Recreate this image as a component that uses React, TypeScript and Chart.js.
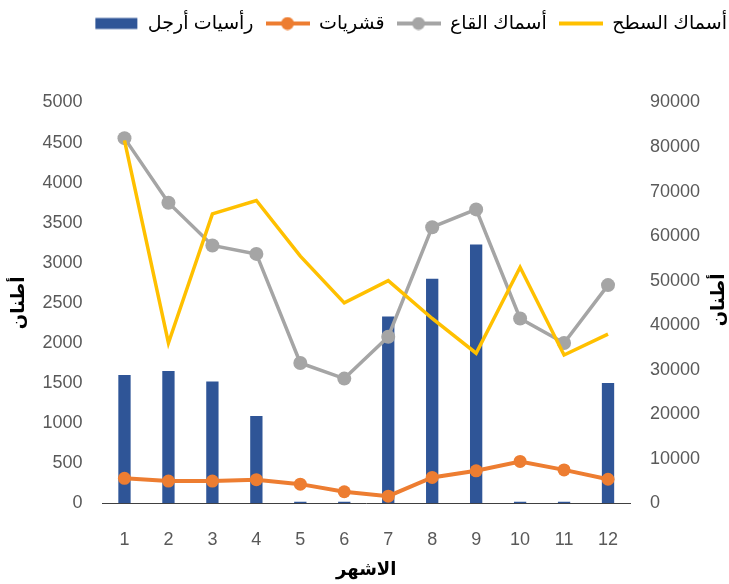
import React, { useEffect, useRef } from "react";
import { Chart, registerables } from "chart.js";

Chart.register(...registerables);

const months = ["1", "2", "3", "4", "5", "6", "7", "8", "9", "10", "11", "12"];
const cephalopods = [1600, 1650, 1520, 1090, 20, 20, 2330, 2800, 3230, 20, 20, 1500];
const crustaceans = [5600, 5000, 5000, 5300, 4300, 2600, 1600, 5800, 7300, 9400, 7500, 5400];
const demersalFish = [82000, 67500, 57900, 56000, 31500, 28000, 37400, 62000, 66000, 41500, 36000, 49000];
const pelagicFish = [81500, 36000, 65000, 68000, 55500, 45000, 50000, 41500, 33700, 53000, 33300, 38000];

const seriesNames = {
  bar: "رأسيات أرجل",
  orange: "قشريات",
  gray: "أسماك القاع",
  yellow: "أسماك السطح",
};
const yTitle = "أطنان";
const xTitle = "الاشهر";

const BLUE = "#2F5597";
const ORANGE = "#ED7D31";
const GRAY = "#A5A5A5";
const YELLOW = "#FFC000";
const TICK = "#595959";

function makeSymbol(kind: string, color: string): HTMLCanvasElement {
  const c = document.createElement("canvas");
  c.width = 44;
  c.height = 14;
  const ctx = c.getContext("2d")!;
  if (kind === "rect") {
    ctx.fillStyle = color;
    ctx.fillRect(1, 1.5, 42, 11);
  } else {
    ctx.strokeStyle = color;
    ctx.lineWidth = 4;
    ctx.beginPath();
    ctx.moveTo(0, 7);
    ctx.lineTo(44, 7);
    ctx.stroke();
    if (kind === "marker") {
      ctx.fillStyle = color;
      ctx.beginPath();
      ctx.arc(22, 7, 6.5, 0, Math.PI * 2);
      ctx.fill();
    }
  }
  return c;
}

const rightTitlePlugin = {
  id: "rightTitle",
  afterLayout(chart: any) {
    if (chart.legend) {
      chart.legend.left += 10;
      chart.legend.right += 10;
    }
  },
  afterDraw(chart: any) {
    const ctx = chart.ctx;
    ctx.save();
    ctx.translate(719, 300);
    ctx.rotate(-Math.PI / 2);
    ctx.font = "bold 18px Arial, 'DejaVu Sans'";
    ctx.fillStyle = "#000";
    ctx.textAlign = "center";
    ctx.textBaseline = "middle";
    ctx.fillText(yTitle, 0, 0);
    ctx.restore();
  },
};

export default function App() {
  const ref = useRef<HTMLCanvasElement>(null);
  useEffect(() => {
    if (!ref.current) return;
    const symbols = {
      bar: makeSymbol("rect", BLUE),
      orange: makeSymbol("marker", ORANGE),
      gray: makeSymbol("marker", GRAY),
      yellow: makeSymbol("line", YELLOW),
    };
    const tickFont = { family: "'Liberation Sans', Arial", size: 18 };
    const plain = (v: any) => String(v);
    const chart = new Chart(ref.current, {
      type: "bar",
      data: {
        labels: months,
        datasets: [
          {
            type: "line",
            label: seriesNames.yellow,
            data: pelagicFish,
            yAxisID: "y1",
            borderColor: YELLOW,
            backgroundColor: YELLOW,
            borderWidth: 3.5,
            pointRadius: 0,
            tension: 0,
            order: 0,
          },
          {
            type: "line",
            label: seriesNames.orange,
            data: crustaceans,
            yAxisID: "y1",
            borderColor: ORANGE,
            backgroundColor: ORANGE,
            borderWidth: 4,
            pointRadius: 6.5,
            pointBorderWidth: 0,
            tension: 0,
            order: 1,
          },
          {
            type: "line",
            label: seriesNames.gray,
            data: demersalFish,
            yAxisID: "y1",
            borderColor: GRAY,
            backgroundColor: GRAY,
            borderWidth: 3.5,
            pointRadius: 7,
            pointBorderWidth: 0,
            tension: 0,
            order: 2,
          },
          {
            type: "bar",
            label: seriesNames.bar,
            data: cephalopods,
            yAxisID: "y",
            backgroundColor: BLUE,
            borderWidth: 0,
            barPercentage: 0.28,
            categoryPercentage: 1,
            order: 3,
          },
        ],
      },
      options: {
        responsive: false,
        animation: false,
        layout: { padding: { top: 2, left: 0, right: 0, bottom: 0 } },
        plugins: {
          tooltip: { enabled: false },
          legend: {
            position: "top",
            align: "end",
            labels: {
              usePointStyle: true,
              pointStyleWidth: 44,
              padding: 12,
              color: "#000",
              font: { family: "Arial, 'DejaVu Sans'", size: 19 },
              generateLabels: () => [
                { text: seriesNames.bar, pointStyle: symbols.bar, fillStyle: BLUE, strokeStyle: BLUE, lineWidth: 0, datasetIndex: 3, hidden: false },
                { text: seriesNames.orange, pointStyle: symbols.orange, fillStyle: ORANGE, strokeStyle: ORANGE, lineWidth: 0, datasetIndex: 1, hidden: false },
                { text: seriesNames.gray, pointStyle: symbols.gray, fillStyle: GRAY, strokeStyle: GRAY, lineWidth: 0, datasetIndex: 2, hidden: false },
                { text: seriesNames.yellow, pointStyle: symbols.yellow, fillStyle: YELLOW, strokeStyle: YELLOW, lineWidth: 0, datasetIndex: 0, hidden: false },
              ] as any,
            },
          },
          title: {
            display: true,
            text: " ",
            weight: 500,
            font: { size: 10 },
            padding: { top: 0, bottom: 47.5 },
          } as any,
        },
        scales: {
          x: {
            position: "bottom",
            grid: { display: false, drawTicks: false },
            border: { display: true, color: "#404040", width: 1 },
            ticks: { color: TICK, font: tickFont, padding: 26, maxRotation: 0 },
            title: {
              display: true,
              text: xTitle,
              color: "#000",
              font: { family: "Arial, 'DejaVu Sans'", size: 18, weight: "bold" },
              padding: { top: 0, bottom: 3 },
            },
            afterFit: (s: any) => {
              s.height = 80.7;
            },
          },
          y: {
            position: "left",
            min: 0,
            max: 5000,
            grid: { display: false, drawTicks: false },
            border: { display: false },
            ticks: { stepSize: 500, color: TICK, font: tickFont, padding: 20, callback: plain },
            title: {
              display: true,
              text: yTitle,
              color: "#000",
              font: { family: "Arial, 'DejaVu Sans'", size: 18, weight: "bold" },
              padding: { top: 8, bottom: 0 },
            },
            afterFit: (s: any) => {
              s.width = 102.5;
            },
          },
          y1: {
            position: "right",
            min: 0,
            max: 90000,
            grid: { display: false, drawTicks: false },
            border: { display: false },
            ticks: { stepSize: 10000, color: TICK, font: tickFont, padding: 20, callback: plain },
            afterFit: (s: any) => {
              s.width = 99;
            },
          },
        },
      },
      plugins: [rightTitlePlugin],
    } as any);
    return () => chart.destroy();
  }, []);
  return (
    <div style={{ position: "fixed", left: 0, top: 0, width: 729, height: 584, background: "#fff" }}>
      <canvas ref={ref} width={729} height={584} style={{ display: "block" }} />
    </div>
  );
}
